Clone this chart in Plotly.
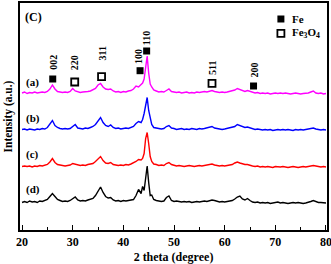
import plotly.graph_objects as go

# ---------------- data ----------------
two_theta = [
    20.0, 20.5, 21.0, 21.5, 22.0, 22.5, 23.0, 23.5, 24.0, 24.5,
    25.0, 25.5, 26.0, 26.5, 27.0, 27.5, 28.0, 28.5, 29.0, 29.5,
    30.0, 30.5, 31.0, 31.5, 32.0, 32.5, 33.0, 33.5, 34.0, 34.5,
    35.0, 35.5, 36.0, 36.5, 37.0, 37.5, 38.0, 38.5, 39.0, 39.5,
    40.0, 40.5, 41.0, 41.5, 42.0, 42.5, 43.0, 43.5,
    43.8, 44.1, 44.4, 44.7, 45.0, 45.3, 45.6,
    46.0, 46.5, 47.0, 47.5, 48.0, 48.5, 49.0, 49.5,
    50.0, 50.5, 51.0, 51.5, 52.0, 52.5, 53.0, 53.5, 54.0, 54.5,
    55.0, 55.5, 56.0, 56.5, 57.0, 57.5, 58.0, 58.5, 59.0, 59.5,
    60.0, 60.5, 61.0, 61.5, 62.0, 62.5, 63.0, 63.5, 64.0, 64.5,
    65.0, 65.5, 66.0, 66.5, 67.0, 67.5, 68.0, 68.5, 69.0, 69.5,
    70.0, 70.5, 71.0, 71.5, 72.0, 72.5, 73.0, 73.5, 74.0, 74.5,
    75.0, 75.5, 76.0, 76.5, 77.0, 77.5, 78.0, 78.5, 79.0, 79.5, 80.0,
]

intensity_a = [
    10, 11, 9.5, 10.5, 10, 11, 10, 10.5, 11, 10.5,
    11.5, 14, 18, 14, 11.5, 11, 10.5, 11, 10.5, 11.5,
    14.5, 12, 11, 10.5, 11, 11, 11.5, 12, 13, 14.5,
    18, 19.5, 16, 14, 13.5, 14, 12, 11, 11.5, 10.5,
    11.5, 11, 12, 12.5, 14, 17, 16, 19,
    20, 24, 38, 47, 30, 19, 16,
    13, 12, 11, 11.5, 11, 12.5, 14, 11.5,
    11, 10.5, 11, 10, 10.5, 11, 10, 10.5, 10, 11,
    10.5, 11, 11.5, 11, 12, 12.5, 11.5, 11, 10.5, 11,
    10.5, 11, 11.5, 12, 13, 14.5, 13.5, 12.5, 11.5, 12.5,
    11.5, 10.5, 10, 10.5, 9.5, 10, 9.5, 10, 9, 9.5,
    10, 9.5, 10, 9.5, 10, 9.5, 9, 9.5, 10, 9.5,
    9, 9.5, 9.5, 10, 11, 12, 10, 9.5, 10, 9, 9.5,
]

intensity_b = [
    10, 10.5, 9.5, 10.5, 10, 9.5, 10.5, 10, 11, 10.5,
    12, 15, 19, 14, 12, 11, 10.5, 11, 10.5, 11,
    13, 15, 11.5, 11, 10.5, 11.5, 11, 12, 13, 15,
    18, 22, 17, 14, 13, 14.5, 12, 11, 11.5, 10.5,
    11, 11.5, 11, 12, 13, 16, 18, 17,
    20, 26, 36, 42, 29, 20, 15,
    12, 11.5, 11, 10.5, 11, 13, 14, 11.5,
    11, 10, 10.5, 11, 10, 10.5, 10, 11, 10.5, 10,
    11, 10.5, 11, 11.5, 12, 13, 11.5, 11, 10.5, 10,
    10.5, 11, 11.5, 12, 13, 15, 14, 12.5, 12, 12.5,
    11.5, 10.5, 10, 10.5, 10, 9.5, 10, 9.5, 10, 9,
    9.5, 10, 9.5, 10, 9.5, 10, 9.5, 9, 10, 9.5,
    10, 9.5, 10, 10.5, 11, 11.5, 10.5, 10, 9.5, 10, 9.5,
]

intensity_c = [
    10, 10.5, 10, 10.5, 9.5, 10.5, 10, 11, 10.5, 11,
    12, 14.5, 18, 14, 12, 11.5, 11, 10.5, 11, 11.5,
    13, 12.5, 11.5, 11, 11.5, 11, 12, 12.5, 13, 15,
    18, 20, 16, 13.5, 13, 14, 12, 11.5, 11, 11.5,
    11, 12, 11.5, 12.5, 13.5, 15, 17, 16.5,
    18, 23, 38, 44, 33, 20, 15,
    12.5, 12, 11, 11.5, 11, 13, 14, 12,
    11, 10.5, 11, 10.5, 10, 10.5, 11, 10.5, 10, 10.5,
    11, 10.5, 11, 11.5, 12, 12.5, 11.5, 11, 10.5, 11,
    10.5, 11, 11.5, 12, 13.5, 14.5, 13.5, 12.5, 12, 12,
    11, 10.5, 10, 10.5, 9.5, 10, 9.5, 10, 9.5, 9,
    10, 9.5, 9.5, 10, 9.5, 9, 9.5, 10, 9.5, 9,
    9.5, 10, 9.5, 10, 11, 11, 10.5, 10, 9.5, 10, 9.5,
]

intensity_d = [
    10, 11, 10, 11.5, 10.5, 11, 10, 11.5, 11, 12,
    13, 16, 19, 16, 13, 12, 11, 11.5, 11, 12,
    14, 15.5, 12.5, 11.5, 12, 11.5, 12.5, 13, 14, 17,
    21, 25.5, 20, 16, 14.5, 15, 12.5, 11.5, 12, 11,
    12, 11.5, 12, 12.5, 13, 17, 23, 19,
    26, 22, 37, 46.5, 30, 17, 17.5,
    13, 12, 11.5, 11, 11.5, 15, 16.5, 12,
    11, 11.5, 11, 10.5, 11, 10.5, 11, 10, 10.5, 11,
    10.5, 11, 11.5, 11, 12, 12.5, 12, 11, 10.5, 11,
    10.5, 11, 11.5, 12, 13.5, 15.5, 16.5, 13.5, 12.5, 14,
    12, 10.5, 10, 10.5, 9.5, 10, 9.5, 10, 9, 9.5,
    10, 10.5, 9.5, 10, 9.5, 9, 9.5, 10, 9.5, 10,
    9.5, 9, 9.5, 10, 11, 12, 11, 10, 10, 9.5, 9.5,
]

sample_labels = ["(a)", "(b)", "(c)", "(d)"]

fe_peaks = [26.06, 43.3, 44.6, 65.7]
fe_hkl = ["002", "100", "110", "200"]
fe3o4_peaks = [30.4, 35.7, 57.5]
fe3o4_hkl = ["220", "311", "511"]

series = [intensity_a, intensity_b, intensity_c, intensity_d]
for s in series:
    assert len(s) == len(two_theta), len(s)

# ---------------- styling ----------------
FONT = "Liberation Serif"
colors = ["#FF00FF", "#0000FF", "#FF0000", "#000000"]
offsets = [127, 90.5, 53.5, 17.5]          # vertical stacking of patterns
label_y = [148, 112, 76, 40.5]

fig = go.Figure()
for s, c, off in zip(series, colors, offsets):
    fig.add_trace(go.Scatter(
        x=two_theta, y=[v + off for v in s], mode="lines",
        line=dict(color=c, width=1.4), showlegend=False, hoverinfo="skip"))

# peak markers
fe_marker_y = [151, 159.3, 179, 144]
fe3o4_marker_y = [148, 153.3, 146.7]
fe_label_y = [168, 173.5, 191.5, 160]
fe3o4_label_y = [167.5, 176, 162]
fe_label_x = [26.06, 43.0, 44.6, 65.7]

fig.add_trace(go.Scatter(
    x=fe_peaks, y=fe_marker_y, mode="markers",
    marker=dict(symbol="square", size=7, color="black"),
    showlegend=False, hoverinfo="skip"))
fig.add_trace(go.Scatter(
    x=fe3o4_peaks, y=fe3o4_marker_y, mode="markers",
    marker=dict(symbol="square-open", size=7, color="black",
                line=dict(width=1.8, color="black")),
    showlegend=False, hoverinfo="skip"))

annotations = []
for xp, yl, t in zip(fe_label_x + fe3o4_peaks, fe_label_y + fe3o4_label_y,
                     fe_hkl + fe3o4_hkl):
    annotations.append(dict(x=xp, y=yl, xref="x", yref="y", text="<b>%s</b>" % t,
                            textangle=-90, showarrow=False,
                            font=dict(family=FONT, size=10, color="black"),
                            xanchor="center", yanchor="middle"))

for lab, ly in zip(sample_labels, label_y):
    annotations.append(dict(x=22.1, y=ly, xref="x", yref="y", text="<b>%s</b>" % lab,
                            showarrow=False, font=dict(family=FONT, size=11, color="black"),
                            xanchor="center", yanchor="middle"))

annotations.append(dict(x=22.3, y=213, xref="x", yref="y", text="<b>(C)</b>",
                        showarrow=False, font=dict(family=FONT, size=12, color="black"),
                        xanchor="center", yanchor="middle"))

# legend (drawn manually)
fig.add_trace(go.Scatter(
    x=[71.1], y=[211], mode="markers",
    marker=dict(symbol="square", size=7, color="black"),
    showlegend=False, hoverinfo="skip"))
fig.add_trace(go.Scatter(
    x=[71.1], y=[196.7], mode="markers",
    marker=dict(symbol="square-open", size=7, color="black",
                line=dict(width=1.8, color="black")),
    showlegend=False, hoverinfo="skip"))
annotations.append(dict(x=72.8, y=211, xref="x", yref="y", text="<b>Fe</b>",
                        showarrow=False, font=dict(family=FONT, size=11, color="black"),
                        xanchor="left", yanchor="middle"))
annotations.append(dict(x=72.8, y=196.7, xref="x", yref="y",
                        text="<b>Fe<sub>3</sub>O<sub>4</sub></b>",
                        showarrow=False, font=dict(family=FONT, size=11, color="black"),
                        xanchor="left", yanchor="middle"))

# y-axis title
annotations.append(dict(x=-0.036, y=0.5, xref="paper", yref="paper",
                        text="<b>Intensity (a.u.)</b>", textangle=-90,
                        showarrow=False, font=dict(family=FONT, size=11.5, color="black"),
                        xanchor="center", yanchor="middle"))

fig.update_layout(
    width=331, height=264,
    margin=dict(l=20, r=4, t=3, b=34),
    paper_bgcolor="white", plot_bgcolor="white",
    annotations=annotations,
    xaxis=dict(
        range=[19.6, 80.2], tickmode="array",
        tickvals=[20, 30, 40, 50, 60, 70, 80],
        ticktext=["<b>%d</b>" % v for v in [20, 30, 40, 50, 60, 70, 80]],
        ticks="inside", ticklen=5, tickwidth=1.2, tickcolor="black",
        ticklabeloverflow="allow",
        minor=dict(tickvals=[25, 35, 45, 55, 65, 75], ticks="inside",
                   ticklen=3, tickwidth=1.2, tickcolor="black"),
        showline=True, linecolor="black", linewidth=1.8, mirror=True,
        showgrid=False, zeroline=False, automargin=False,
        tickfont=dict(family=FONT, size=12, color="black"),
        title=dict(text="<b>2 theta (degree)</b>", standoff=4,
                   font=dict(family=FONT, size=12, color="black")),
    ),
    yaxis=dict(
        range=[0, 227], showticklabels=False, ticks="",
        showline=True, linecolor="black", linewidth=1.8, mirror=True,
        showgrid=False, zeroline=False, automargin=False,
    ),
)

fig.write_html("out.html",
               config={"displayModeBar": False},
               post_script="document.body.style.margin='0';document.body.style.padding='0';")
